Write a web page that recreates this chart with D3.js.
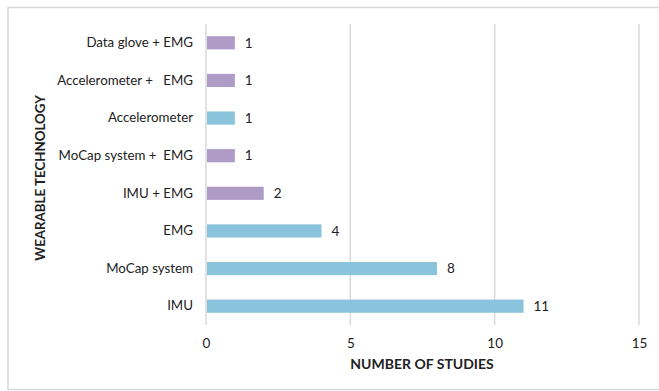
<!DOCTYPE html>
<html lang="en">
<head>
  <meta charset="UTF-8">
  <title>Wearable technology</title>
  <script src="https://d3js.org/d3.v7.min.js"></script>
  <style>
    body { margin: 0; background: #fff; }
    text { font-family: Lato, "Open Sans", sans-serif; fill: #222; }
  </style>
</head>
<body>
<div id="chart"></div>
<script>
  let width = 659;
  let height = 391;

  let categories = ["Data glove + EMG", "Accelerometer +   EMG", "Accelerometer", "MoCap system +  EMG",
                    "IMU + EMG", "EMG", "MoCap system", "IMU"];
  let studies = [1, 1, 1, 1, 2, 4, 8, 11];
  let combined = [true, true, false, true, true, false, false, false];
  let xTicks = [0, 5, 10, 15];

  let purple = "#ae9cc7";
  let blue = "#89c3dc";

  let svg = d3.select("#chart")
          .append("svg")
          .attr("width", width)
          .attr("height", height)
          .style("display", "block");

  // outer frame
  svg.append("rect")
          .attr("x", 8).attr("y", 7.5)
          .attr("width", width).attr("height", 382)
          .attr("fill", "none")
          .attr("stroke", "#d9d9d9")
          .attr("stroke-width", 1.5);

  let x = d3.scaleLinear().domain([0, 15]).range([206, 639]);
  let y = d3.scaleBand().domain(categories).range([24, 325]).paddingInner(0.65).paddingOuter(0.325);

  // vertical gridlines
  svg.append("g")
          .selectAll("line")
          .data(xTicks)
          .join("line")
          .attr("x1", d => x(d)).attr("x2", d => x(d))
          .attr("y1", 24).attr("y2", 325)
          .attr("stroke", "#d9d9d9")
          .attr("stroke-width", 1.5);

  let xAxis = d3.axisBottom(x).tickValues(xTicks).tickSize(0).tickPadding(0);
  let gx = svg.append("g").attr("transform", "translate(0,338)").call(xAxis);
  gx.select(".domain").remove();
  gx.selectAll("text").attr("font-size", 13.5).attr("font-family", "Lato, sans-serif").attr("fill", "#333");

  let yAxis = d3.axisLeft(y).tickSize(0).tickPadding(13);
  let gy = svg.append("g").attr("transform", "translate(206,0)").call(yAxis);
  gy.select(".domain").remove();
  gy.selectAll("text").attr("font-size", 13.3).attr("font-family", "Lato, sans-serif").attr("fill", "#222")
          .style("white-space", "pre");

  // bars
  svg.append("g")
          .selectAll("rect")
          .data(categories)
          .join("rect")
          .attr("x", x(0) + 1)
          .attr("y", d => y(d))
          .attr("height", y.bandwidth())
          .attr("width", (d, i) => x(studies[i]) - x(0) - 1)
          .attr("fill", (d, i) => combined[i] ? purple : blue);

  // value labels
  svg.append("g")
          .selectAll("text")
          .data(categories)
          .join("text")
          .attr("x", (d, i) => x(studies[i]) + 10)
          .attr("y", d => y(d) + y.bandwidth() / 2)
          .attr("dy", "0.35em")
          .attr("font-size", 13.5)
          .text((d, i) => studies[i]);

  svg.append("text")
          .attr("x", x(5))
          .attr("y", 369)
          .attr("font-size", 14)
          .attr("font-weight", "bold")
          .text("NUMBER OF STUDIES");

  svg.append("text")
          .attr("transform", "translate(45,178) rotate(-90)")
          .attr("text-anchor", "middle")
          .attr("font-size", 13.3)
          .attr("font-weight", "bold")
          .text("WEARABLE TECHNOLOGY");
</script>
</body>
</html>
